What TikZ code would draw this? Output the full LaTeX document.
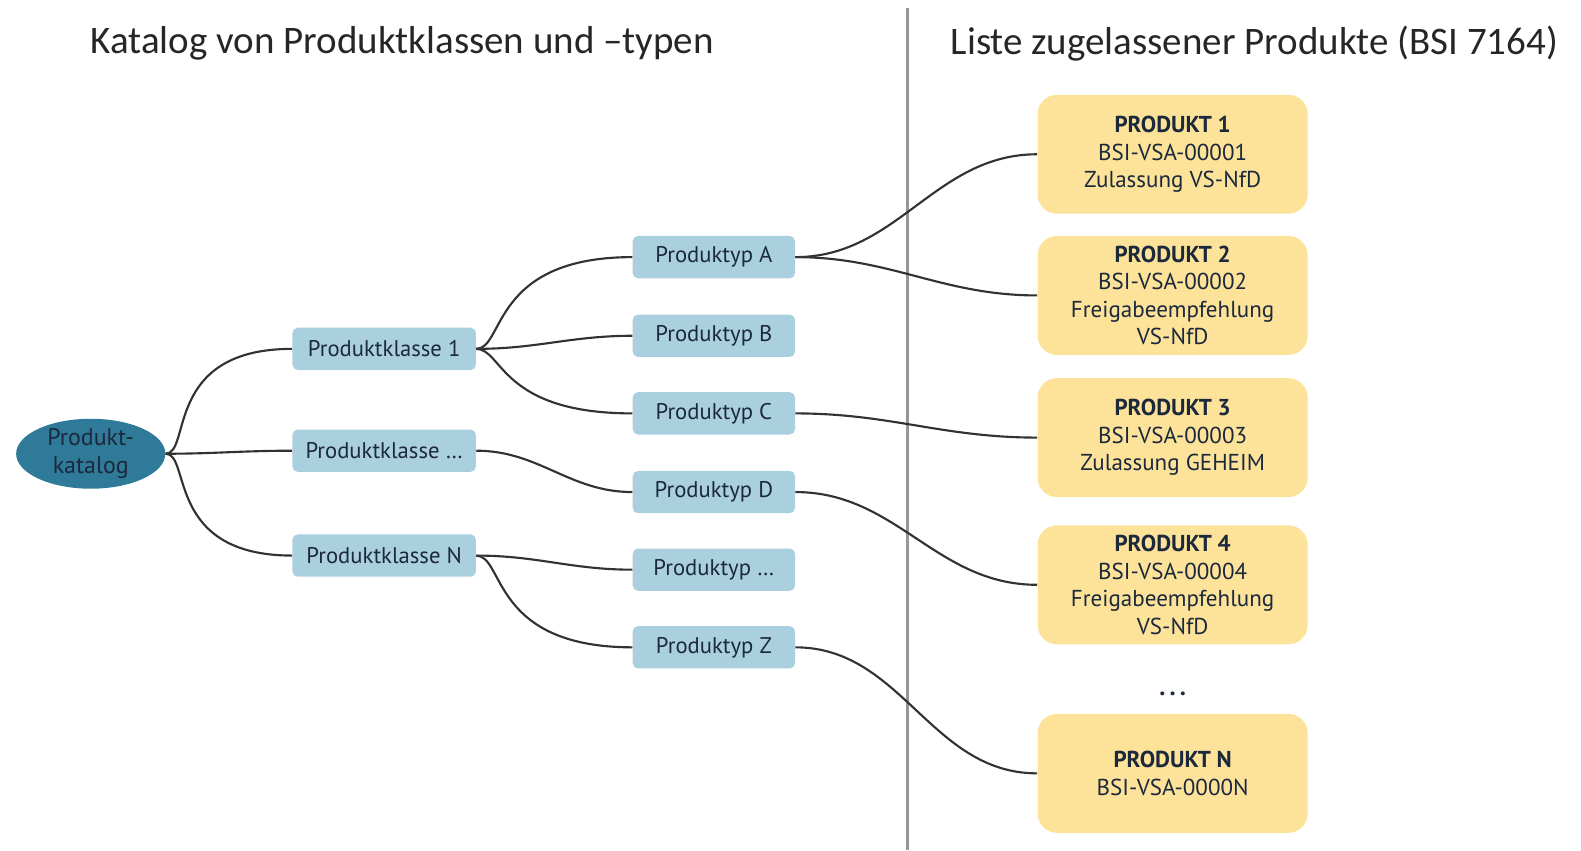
\documentclass[tikz,border=0pt]{standalone}
\usepackage{fontspec}
\setmainfont{PT Sans}
\newfontfamily\titlefont{Carlito}
\usetikzlibrary{shapes.geometric}
\definecolor{bsiteal}{RGB}{47,122,153}
\definecolor{bsiblue}{RGB}{170,208,224}
\definecolor{bsiyellow}{RGB}{252,227,153}
\definecolor{bsitext}{RGB}{28,40,60}
\definecolor{bsiline}{RGB}{50,50,50}
\definecolor{bsigray}{RGB}{150,150,150}

\begin{document}
\begin{tikzpicture}[x=0.02cm,y=-0.02cm,
  klasse/.style={fill=bsiblue,rounded corners=3pt,minimum width=3.64cm,minimum height=0.84cm,inner sep=2pt,font=\fontsize{12.8}{14}\selectfont,text=bsitext},
  typ/.style={klasse,minimum width=3.22cm},
  produkt/.style={fill=bsiyellow,rounded corners=11pt,minimum width=5.36cm,minimum height=2.36cm,align=center,font=\fontsize{13}{15.5}\selectfont,text=bsitext},
  titel/.style={font=\titlefont\fontsize{22}{26}\selectfont,text=black!85},
  link/.style={draw=bsiline,line width=1.2pt},
  early/.style={out=0,in=180,out looseness=0.4,in looseness=2}]
\useasboundingbox (0,0) rectangle (1568,844);

% Titles and divider
\node[titel] (tleft) at (399,43) {Katalog von Produktklassen und –typen};
\node[titel] (tright) at (1244,43) {Liste zugelassener Produkte (BSI 7164)};
\draw[bsigray,line width=1.6pt] (900,8) -- (900,843);

% Catalogue
\node[ellipse,fill=bsiteal,minimum width=2.96cm,minimum height=1.36cm,inner sep=0pt,align=center,text=bsitext,font=\fontsize{13.5}{15.5}\selectfont] (root) at (90,450) {Produkt-\\katalog};

\node[klasse] (k1) at (381,346) {Produktklasse 1};
\node[klasse] (kdots) at (381,447) {Produktklasse \dots};
\node[klasse] (kN) at (381,551) {Produktklasse N};

\node[typ] (tA) at (708,255) {Produktyp A};
\node[typ] (tB) at (708,333) {Produktyp B};
\node[typ] (tC) at (708,410) {Produktyp C};
\node[typ] (tD) at (708,488) {Produktyp D};
\node[typ] (tdots) at (708,565) {Produktyp \dots};
\node[typ] (tZ) at (708,642) {Produktyp Z};

% Approved products
\node[produkt] (p1) at (1163,153) {\textbf{PRODUKT 1}\\BSI-VSA-00001\\Zulassung VS-NfD};
\node[produkt] (p2) at (1163,293) {\textbf{PRODUKT 2}\\BSI-VSA-00002\\Freigabeempfehlung\\VS-NfD};
\node[produkt] (p3) at (1163,434) {\textbf{PRODUKT 3}\\BSI-VSA-00003\\Zulassung GEHEIM};
\node[produkt] (p4) at (1163,580) {\textbf{PRODUKT 4}\\BSI-VSA-00004\\Freigabeempfehlung\\VS-NfD};
\node[text=bsitext,font=\bfseries\fontsize{14}{15}\selectfont] (pdots) at (1163,688) {.\,.\,.};
\node[produkt] (pN) at (1163,767) {\textbf{PRODUKT N}\\BSI-VSA-0000N};

% Links
\draw[link] (root.east) to[early] (k1.west);
\draw[link] (root.east) to[out=0,in=180] (kdots.west);
\draw[link] (root.east) to[early] (kN.west);
\draw[link] (k1.east) to[early] (tA.west);
\draw[link] (k1.east) to[out=0,in=180] (tB.west);
\draw[link] (k1.east) to[early] (tC.west);
\draw[link] (kdots.east) to[out=0,in=180] (tD.west);
\draw[link] (kN.east) to[out=0,in=180] (tdots.west);
\draw[link] (kN.east) to[early] (tZ.west);
\draw[link] (tA.east) to[out=0,in=180] (p1.west);
\draw[link] (tA.east) to[out=0,in=180] (p2.west);
\draw[link] (tC.east) to[out=0,in=180] (p3.west);
\draw[link] (tD.east) to[out=0,in=180] (p4.west);
\draw[link] (tZ.east) to[out=0,in=180] (pN.west);
\end{tikzpicture}
\end{document}
